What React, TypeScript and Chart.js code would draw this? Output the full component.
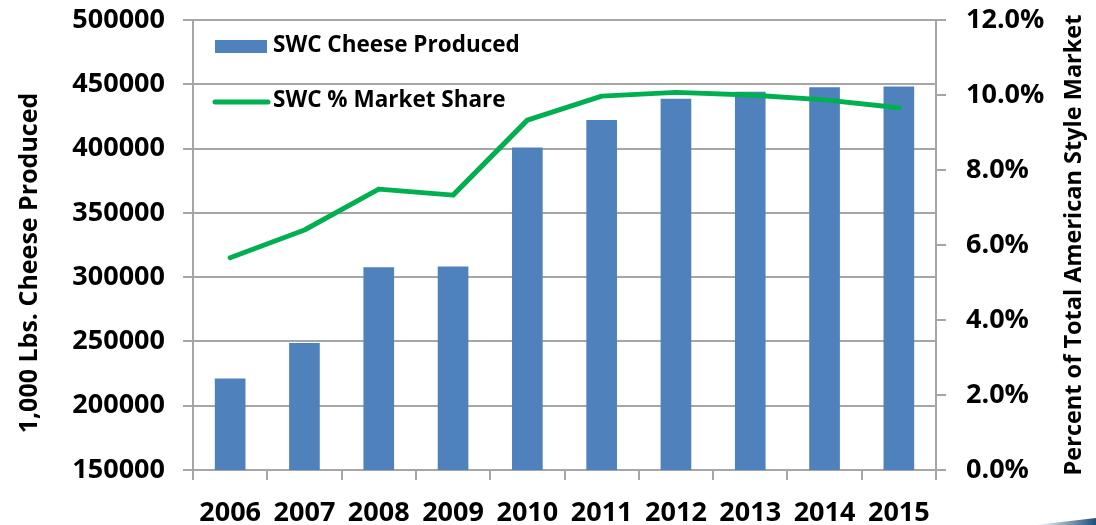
import React, { useEffect, useRef } from "react";
import { Chart, registerables } from "chart.js";

Chart.register(...registerables);

const years = ["2006", "2007", "2008", "2009", "2010", "2011", "2012", "2013", "2014", "2015"];
const cheeseProduced = [221000, 248500, 307500, 308000, 400500, 422000, 438500, 444000, 447500, 448000];
const marketSharePct = [5.66, 6.4, 7.49, 7.33, 9.33, 9.97, 10.07, 10.0, 9.87, 9.66];
const barLabel = "SWC Cheese Produced";
const lineLabel = "SWC % Market Share";
const leftTitle = "1,000 Lbs. Cheese Produced";
const rightTitle = "Percent of Total American Style Market";

const FONT = "'Open Sans', 'Noto Sans', sans-serif";
const BLUE = "#4F81BD";
const GREEN = "#00B050";
const GRID = "#A6A6A6";

const overlayPlugin = {
  id: "overlay",
  afterDraw(chart: any) {
    const ctx = chart.ctx;
    const ca = chart.chartArea;
    ctx.save();
    // legend
    ctx.fillStyle = BLUE;
    ctx.fillRect(ca.left + 22, ca.top + 20, 52, 13);
    ctx.strokeStyle = GREEN;
    ctx.lineWidth = 5;
    ctx.lineCap = "round";
    ctx.beginPath();
    ctx.moveTo(ca.left + 22, ca.top + 82);
    ctx.lineTo(ca.left + 75, ca.top + 82);
    ctx.stroke();
    ctx.fillStyle = "#000";
    ctx.font = `bold 22.5px ${FONT}`;
    ctx.textBaseline = "middle";
    ctx.textAlign = "left";
    ctx.fillText(barLabel, ca.left + 80, ca.top + 26);
    ctx.fillText(lineLabel, ca.left + 80, ca.top + 81);
    // left title
    ctx.save();
    ctx.translate(30, 263);
    ctx.rotate(-Math.PI / 2);
    ctx.textAlign = "center";
    ctx.font = `bold 25px ${FONT}`;
    ctx.fillText(leftTitle, 0, 0);
    ctx.restore();
    // right title
    ctx.save();
    ctx.translate(1074, 245);
    ctx.rotate(-Math.PI / 2);
    ctx.textAlign = "center";
    ctx.font = `bold 23.5px ${FONT}`;
    ctx.fillText(rightTitle, 0, 0);
    ctx.restore();
    // decorative swoosh bottom-right
    const g = ctx.createLinearGradient(1035, 0, 1096, 0);
    g.addColorStop(0, "rgba(31,78,121,0)");
    g.addColorStop(1, "rgba(31,78,121,1)");
    ctx.fillStyle = g;
    ctx.beginPath();
    ctx.moveTo(1035, 525);
    ctx.lineTo(1096, 518);
    ctx.lineTo(1096, 525);
    ctx.closePath();
    ctx.fill();
    ctx.restore();
  },
};

export default function App() {
  const ref = useRef<HTMLCanvasElement>(null);
  useEffect(() => {
    if (!ref.current) return;
    const chart = new Chart(ref.current, {
      type: "bar",
      data: {
        labels: years,
        datasets: [
          {
            type: "line",
            label: lineLabel,
            data: marketSharePct,
            yAxisID: "y1",
            borderColor: GREEN,
            backgroundColor: GREEN,
            borderWidth: 5,
            borderCapStyle: "round",
            borderJoinStyle: "round",
            pointRadius: 0,
            tension: 0,
            order: 0,
          } as any,
          {
            type: "bar",
            label: barLabel,
            data: cheeseProduced,
            yAxisID: "y",
            backgroundColor: BLUE,
            borderWidth: 0,
            barThickness: 30,
            order: 1,
          } as any,
        ],
      },
      options: {
        responsive: false,
        animation: false,
        devicePixelRatio: 1,
        layout: { padding: { top: 20, bottom: 0, left: 0, right: 0 } },
        plugins: { legend: { display: false }, tooltip: { enabled: false } },
        scales: {
          x: {
            offset: true,
            grid: { offset: true, drawOnChartArea: false, drawTicks: true, tickLength: 10, color: GRID, lineWidth: 2 },
            border: { color: GRID, width: 2 },
            ticks: { color: "#000", font: { family: FONT, size: 27, weight: "bold" }, padding: 17, maxRotation: 0 },
            afterFit: (s: any) => { s.height = 55; s.paddingLeft = 0; s.paddingRight = 0; },
          },
          y: {
            position: "left",
            min: 150000,
            max: 500000,
            ticks: {
              stepSize: 50000,
              color: "#000",
              font: { family: FONT, size: 27, weight: "bold" },
              padding: 18,
              callback: (v: any) => String(v),
            },
            grid: { color: GRID, lineWidth: 2, tickLength: 10 },
            border: { color: GRID, width: 2 },
            afterFit: (s: any) => { s.width = 193; s.paddingTop = 10; s.paddingBottom = 10; },
          },
          y1: {
            position: "right",
            min: 0,
            max: 12,
            ticks: {
              stepSize: 2,
              color: "#000",
              font: { family: FONT, size: 27, weight: "bold" },
              padding: 20,
              callback: (v: any) => Number(v).toFixed(1) + "%",
            },
            grid: { drawOnChartArea: false, color: GRID, lineWidth: 2, tickLength: 10 },
            border: { color: GRID, width: 2 },
            afterFit: (s: any) => { s.width = 160; s.paddingTop = 10; s.paddingBottom = 10; },
          },
        },
      },
      plugins: [overlayPlugin],
    });
    return () => chart.destroy();
  }, []);
  return (
    <div style={{ position: "fixed", left: 0, top: 0, width: 1096, height: 525, background: "#fff" }}>
      <canvas ref={ref} width={1096} height={525} style={{ display: "block" }} />
    </div>
  );
}
